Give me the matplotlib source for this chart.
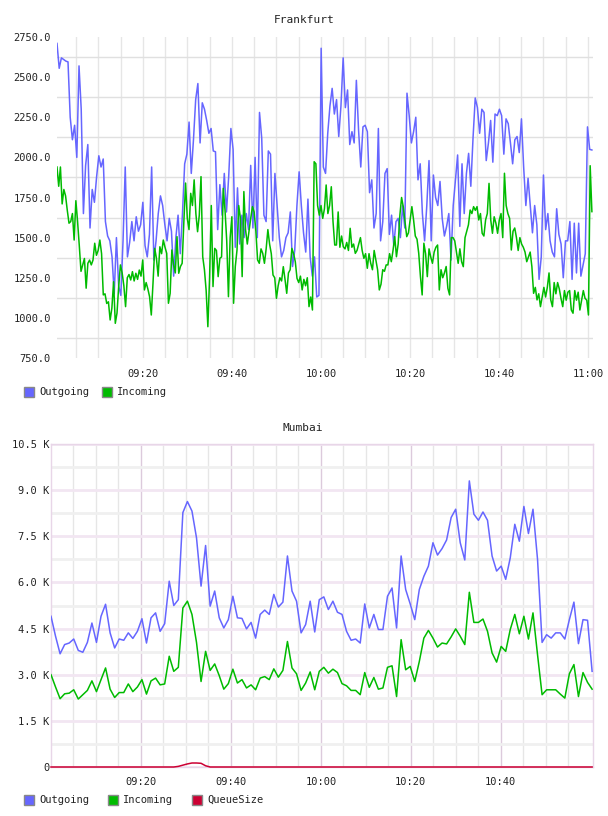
import matplotlib.pyplot as plt
import numpy as np
from matplotlib.patches import Rectangle

plt.rcParams['font.family'] = ['DejaVu Sans Mono']

# ---------------- Frankfurt (minutes after 09:00) ----------------
fra_start, fra_end = 0.7, 120.9
fra_out = [
    2710, 2555, 2620, 2610, 2600, 2595, 2250, 2110, 2200, 2000,
    2570, 2300, 1650, 1950, 2080, 1560, 1800, 1720, 1880, 2010,
    1940, 1990, 1600, 1510, 1480, 1380, 1150, 1500, 1200, 1140,
    1480, 1940, 1380, 1470, 1600, 1480, 1630, 1540, 1580, 1720,
    1450, 1380, 1520, 1940, 1360, 1480, 1650, 1760, 1700, 1580,
    1480, 1620, 1540, 1260, 1500, 1640, 1400, 1650, 1960, 2020,
    2220, 1900, 2110, 2360, 2460, 2090, 2340, 2300, 2230, 2150,
    2180, 2040, 2035, 1550, 1830, 1640, 1900, 1660, 1880, 2180,
    2050, 1440, 1810, 1460, 1640, 1500, 1650, 1550, 1950, 1560,
    2000, 1500, 2280, 2120, 1640, 1600, 2040, 2020, 1480, 1900,
    1700, 1500, 1380, 1420, 1500, 1530, 1660, 1320, 1420, 1700,
    1910, 1700, 1530, 1410, 1740, 1380, 1260, 1380, 1130, 1140,
    2680, 1940, 1900, 2150, 2320, 2430, 2270, 2360, 2130, 2320,
    2620, 2310, 2420, 2080, 2160, 2090, 2480, 2170, 1940, 2190,
    2200, 2160, 1780, 1860, 1560, 1650, 2180, 1480, 1600, 1900,
    1930, 1520, 1640, 1450, 1600, 1620, 1500, 1700, 1560, 2400,
    2260, 2090, 2160, 2250, 1860, 1960, 1650, 1480, 1700, 1980,
    1480, 1890, 1750, 1700, 1850, 1620, 1510, 1570, 1650, 1360,
    1700, 1860, 2015, 1570, 1960, 1650, 1900, 2025, 1820, 2120,
    2370, 2310, 2150, 2300, 2280, 1980, 2090, 2230, 1970, 2270,
    2260, 2300, 2260, 2020, 2240, 2210, 2090, 1960, 2110, 2130,
    2030, 2240, 1940, 1700, 1870, 1700, 1530, 1700, 1580, 1240,
    1380, 1890, 1550, 1650, 1480, 1410, 1380, 1680, 1520, 1460,
    1250, 1480, 1480, 1600, 1240, 1590, 1280, 1590, 1260, 1330,
    1400, 2190, 2050, 2046]
fra_in = [
    1940, 1820, 1940, 1710, 1800, 1760, 1670, 1590, 1600, 1650,
    1485, 1730, 1600, 1450, 1290, 1330, 1370, 1185, 1340, 1360,
    1330, 1360, 1465, 1390, 1420, 1485, 1400, 1143, 1150, 1090,
    1100, 987, 1060, 1225, 966, 1030, 1200, 1330, 1280, 1200,
    1070, 1250, 1270, 1236, 1288, 1230, 1278, 1240, 1298, 1260,
    1361, 1174, 1220, 1180, 1132, 1018, 1216, 1433, 1371, 1260,
    1443, 1400, 1485, 1440, 1402, 1091, 1153, 1423, 1330, 1280,
    1506, 1278, 1320, 1340, 1600, 1840, 1620, 1550, 1776, 1700,
    1860, 1650, 1537, 1640, 1880, 1381, 1300, 1170, 945, 1250,
    1700, 1195, 1433, 1420, 1257, 1371, 1380, 1807, 1672, 1480,
    1132, 1500, 1630, 1091, 1320, 1423, 1700, 1620, 1257, 1787,
    1548, 1460, 1540, 1620, 1693, 1660, 1540, 1361, 1340, 1430,
    1402, 1340, 1430, 1550, 1460, 1400, 1267, 1250, 1122, 1200,
    1250, 1230, 1319, 1240, 1153, 1280, 1300, 1433, 1400, 1350,
    1246, 1220, 1260, 1174, 1240, 1200, 1250, 1070, 1130, 1049,
    1973, 1960, 1700, 1640, 1700, 1620, 1680, 1828, 1650, 1700,
    1817, 1600, 1454, 1454, 1660, 1440, 1510, 1443, 1430, 1470,
    1420, 1558, 1440, 1460, 1402, 1420, 1460, 1500, 1420, 1371,
    1400, 1309, 1400, 1340, 1300, 1420, 1360, 1300, 1174, 1210,
    1300, 1290, 1330, 1330, 1400, 1350, 1420, 1506, 1381, 1460,
    1640, 1750, 1690, 1600, 1506, 1530, 1610, 1693, 1610, 1510,
    1490, 1402, 1257, 1143, 1465, 1400, 1257, 1430, 1380, 1340,
    1410, 1440, 1454, 1174, 1300, 1250, 1280, 1320, 1184, 1143,
    1500, 1500, 1480, 1410, 1340, 1430, 1350, 1319, 1500, 1540,
    1580, 1672, 1650, 1693, 1670, 1693, 1610, 1650, 1527, 1510,
    1610, 1650, 1838, 1610, 1527, 1630, 1590, 1527, 1610, 1650,
    1500, 1901, 1700, 1650, 1620, 1423, 1540, 1560, 1500, 1420,
    1500, 1460, 1440, 1410, 1350, 1380, 1410, 1319, 1153, 1190,
    1112, 1150, 1070, 1130, 1190, 1130, 1190, 1280, 1112, 1070,
    1220, 1150, 1220, 1180, 1120, 1070, 1170, 1110, 1160, 1170,
    1049, 1029, 1170, 1110, 1160, 1049, 1110, 1170, 1122, 1110,
    1018, 1948, 1662]
fra_ticks = [20, 40, 60, 80, 100, 120]
fra_tick_labels = ['09:20', '09:40', '10:00', '10:20', '10:40', '11:00']
fra_yticks = [750, 1000, 1250, 1500, 1750, 2000, 2250, 2500, 2750]

# ---------------- Mumbai (values in K, one sample per minute) ----------------
mum_out = [
    4.90, 4.25, 3.68, 3.98, 4.03, 4.16, 3.79, 3.73, 4.05, 4.68,
    4.05, 4.90, 5.29, 4.36, 3.87, 4.16, 4.12, 4.36, 4.18, 4.41,
    4.82, 4.03, 4.85, 5.01, 4.41, 4.66, 6.04, 5.25, 5.44, 8.27,
    8.63, 8.32, 7.45, 5.88, 7.20, 5.23, 5.72, 4.85, 4.52, 4.79,
    5.55, 4.85, 4.83, 4.49, 4.70, 4.19, 4.96, 5.10, 4.96, 5.61,
    5.20, 5.36, 6.86, 5.72, 5.39, 4.36, 4.63, 5.39, 4.39, 5.44,
    5.53, 5.12, 5.39, 5.03, 4.96, 4.41, 4.12, 4.16, 4.03, 5.30,
    4.52, 4.96, 4.47, 4.47, 5.55, 5.82, 4.52, 6.86, 5.77, 5.30,
    4.79, 5.77, 6.20, 6.53, 7.29, 6.89, 7.10, 7.38, 8.11, 8.38,
    7.29, 6.73, 9.30, 8.22, 8.02, 8.29, 8.02, 6.86, 6.37, 6.53,
    6.10, 6.80, 7.89, 7.34, 8.47, 7.59, 8.38, 6.75, 4.05, 4.30,
    4.19, 4.36, 4.36, 4.16, 4.79, 5.36, 4.01, 4.79, 4.77, 3.11]
mum_in = [
    3.00, 2.60, 2.22, 2.38, 2.40, 2.51, 2.21, 2.35, 2.49, 2.80,
    2.45, 2.84, 3.22, 2.53, 2.26, 2.42, 2.42, 2.70, 2.45, 2.60,
    2.84, 2.37, 2.80, 2.89, 2.67, 2.70, 3.60, 3.11, 3.24, 5.17,
    5.39, 4.96, 4.05, 2.78, 3.76, 3.14, 3.35, 2.97, 2.53, 2.71,
    3.18, 2.73, 2.84, 2.57, 2.67, 2.51, 2.89, 2.94, 2.84, 3.19,
    2.92, 3.14, 4.08, 3.22, 3.03, 2.49, 2.73, 3.09, 2.51, 3.11,
    3.24, 3.05, 3.18, 3.07, 2.71, 2.64, 2.49, 2.49, 2.35, 3.07,
    2.59, 2.91, 2.53, 2.57, 3.24, 3.29, 2.29, 4.14, 3.16, 3.27,
    2.78, 3.43, 4.19, 4.44, 4.19, 3.90, 4.03, 4.00, 4.23, 4.49,
    4.25, 3.98, 5.68, 4.70, 4.70, 4.81, 4.41, 3.71, 3.41, 3.92,
    3.76, 4.47, 4.96, 4.33, 4.90, 4.16, 5.01, 3.65, 2.35, 2.51,
    2.51, 2.51, 2.37, 2.24, 3.03, 3.33, 2.29, 3.07, 2.75, 2.53]
mum_queue = ([0.0] * 27 +
             [0.0, 0.02, 0.06, 0.10, 0.13, 0.13, 0.12, 0.04, 0.0] +
             [0.0] * 84)
mum_ticks = [20, 40, 60, 80, 100]
mum_tick_labels = ['09:20', '09:40', '10:00', '10:20', '10:40']
mum_yticks = [0, 1.5, 3.0, 4.5, 6.0, 7.5, 9.0, 10.5]
mum_ytick_labels = ['0', '1.5 K', '3.0 K', '4.5 K', '6.0 K', '7.5 K', '9.0 K', '10.5 K']

blue = '#6666ff'
green = '#00bb00'
red = '#cc0033'

W, H = 608, 816
fig = plt.figure(figsize=(W / 100, H / 100), dpi=100)

def box(l, t, r, b):
    return [l / W, 1 - b / H, (r - l) / W, (b - t) / H]

# ---- Frankfurt chart ----
ax1 = fig.add_axes(box(57, 37, 593, 358))
t_out = np.linspace(fra_start, fra_end, len(fra_out))
t_in = np.linspace(fra_start, fra_end, len(fra_in))
ax1.plot(t_out, fra_out, color=blue, lw=1.1, zorder=3)
ax1.plot(t_in, fra_in, color=green, lw=1.1, zorder=4)
ax1.set_xlim(0.7, 121.15)
ax1.set_ylim(750, 2750)
ax1.set_yticks(fra_yticks)
ax1.set_yticklabels(['%.1f' % v for v in fra_yticks])
ax1.set_yticks(np.arange(875, 2750, 250), minor=True)
ax1.set_xticks(fra_ticks)
ax1.set_xticklabels(fra_tick_labels)
ax1.set_xticks(np.arange(5, 121, 5), minor=True)
ax1.grid(True, which='minor', axis='y', color='#e0e0e0', lw=1)
ax1.grid(True, which='both', axis='x', color='#e6e6e6', lw=1)
ax1.tick_params(which='both', length=0, labelsize=7.5, colors='#222222')
ax1.tick_params(axis='y', pad=4.5)
ax1.tick_params(axis='x', pad=8)
for s in ax1.spines.values():
    s.set_visible(False)
ax1.set_axisbelow(True)
fig.text(304 / W, 1 - 20 / H, 'Frankfurt', ha='center', va='center', fontsize=8, color='#222222')

# ---- Mumbai chart ----
ax2 = fig.add_axes(box(51, 444, 593, 767))
t_m = np.linspace(0, 120.3, len(mum_out))
ax2.plot(t_m, mum_out, color=blue, lw=1.1, zorder=3)
ax2.plot(t_m, mum_in, color=green, lw=1.1, zorder=4)
ax2.plot(t_m, mum_queue, color=red, lw=1.1, zorder=5, clip_on=False)
ax2.set_xlim(0, 120.5)
ax2.set_ylim(0, 10.5)
ax2.set_yticks(mum_yticks)
ax2.set_yticklabels(mum_ytick_labels)
ax2.set_yticks(np.arange(0.75, 10.5, 1.5), minor=True)
ax2.set_xticks(mum_ticks)
ax2.set_xticklabels(mum_tick_labels)
ax2.set_xticks(np.arange(5, 120, 5), minor=True)
ax2.grid(True, which='major', axis='y', color='#f2e6f2', lw=2)
ax2.grid(True, which='minor', axis='y', color='#f0f0f0', lw=2)
ax2.grid(True, which='major', axis='x', color='#dccadc', lw=1)
ax2.grid(True, which='minor', axis='x', color='#e6e6e6', lw=1)
ax2.tick_params(which='both', length=0, labelsize=7.5, colors='#222222')
ax2.tick_params(axis='y', pad=1)
ax2.tick_params(axis='x', pad=7.5)
for s in ax2.spines.values():
    s.set_color('#e8d6e8')
    s.set_linewidth(1)
ax2.set_axisbelow(True)
fig.text(303 / W, 1 - 428 / H, 'Mumbai', ha='center', va='center', fontsize=8, color='#222222')

# ---- legends ----
def legend_item(x, y, color, label):
    fig.add_artist(Rectangle((x / W, 1 - (y + 5) / H), 10 / W, 10 / H,
                             transform=fig.transFigure, facecolor=color,
                             edgecolor='#888888', lw=1))
    fig.text((x + 15) / W, 1 - y / H, label, ha='left', va='center',
             fontsize=7.5, color='#222222')

legend_item(24, 392, blue, 'Outgoing')
legend_item(102, 392, green, 'Incoming')
legend_item(24, 800, blue, 'Outgoing')
legend_item(108, 800, green, 'Incoming')
legend_item(192, 800, red, 'QueueSize')

fig.savefig('out.png', dpi=100)
